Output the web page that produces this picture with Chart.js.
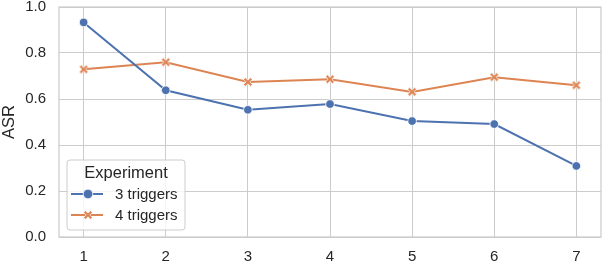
<!DOCTYPE html>
<html><head><meta charset="utf-8">
<script src="https://cdn.jsdelivr.net/npm/chart.js@4"></script>
<style>html,body{margin:0;padding:0;background:#fff}</style>
</head><body>
<canvas id="c" width="603" height="264" style="width:603px;height:264px;display:block"></canvas>
<script>
const triggerCounts = [1, 2, 3, 4, 5, 6, 7];
const asr3Triggers = [0.933, 0.638, 0.553, 0.578, 0.504, 0.491, 0.309];
const asr4Triggers = [0.729, 0.760, 0.674, 0.686, 0.631, 0.695, 0.660];
const seriesNames = ['3 triggers', '4 triggers'];
const yTickValues = [0, 0.2, 0.4, 0.6, 0.8, 1.0];
const legendTitle = 'Experiment';
const yAxisLabel = 'ASR';

const BLUE = '#4c72b0', ORANGE = '#dd8452', GRID = '#cccccc', TEXT = '#262626';
const FONT = "'Liberation Sans', Arial, sans-serif";

function makeXMarker(color) {
  const s = 14, c = document.createElement('canvas');
  c.width = s; c.height = s;
  const g = c.getContext('2d');
  const a = 1.3, r = 4.9;
  const pts = [[-a,r],[a,r],[a,a],[r,a],[r,-a],[a,-a],[a,-r],[-a,-r],[-a,-a],[-r,-a],[-r,a],[-a,a]];
  const cs = Math.cos(Math.PI/4), sn = Math.sin(Math.PI/4);
  g.beginPath();
  pts.forEach((p, i) => {
    const x = s/2 + p[0]*cs - p[1]*sn, y = s/2 + p[0]*sn + p[1]*cs;
    if (i === 0) g.moveTo(x, y); else g.lineTo(x, y);
  });
  g.closePath();
  g.fillStyle = color; g.fill();
  g.strokeStyle = '#ffffff'; g.lineWidth = 0.7; g.stroke();
  return c;
}
const xMarker = makeXMarker(ORANGE);

const toPoints = arr => arr.map((v, i) => ({x: triggerCounts[i], y: v}));

const framePlugin = {
  id: 'frame',
  beforeDatasetsDraw(chart) {
    const {ctx, chartArea: ca} = chart;
    ctx.save();
    ctx.strokeStyle = GRID; ctx.lineWidth = 1.25;
    ctx.strokeRect(ca.left, ca.top, ca.right - ca.left, ca.bottom - ca.top);
    ctx.restore();
  }
};

const legendPlugin = {
  id: 'customLegend',
  afterDatasetsDraw(chart) {
    const {ctx, chartArea: ca} = chart;
    const x0 = ca.left + 8, y0 = ca.bottom - 77, w = 118, h = 70;
    ctx.save();
    ctx.beginPath();
    ctx.roundRect(x0, y0, w, h, 3);
    ctx.fillStyle = 'rgba(255,255,255,0.8)';
    ctx.fill();
    ctx.strokeStyle = GRID; ctx.lineWidth = 1;
    ctx.stroke();
    ctx.fillStyle = TEXT;
    ctx.textAlign = 'center'; ctx.textBaseline = 'middle';
    ctx.font = `16.5px ${FONT}`;
    ctx.fillText(legendTitle, x0 + w/2, y0 + 13);
    const rows = [
      {name: seriesNames[0], color: BLUE, y: y0 + 34, marker: 'circle'},
      {name: seriesNames[1], color: ORANGE, y: y0 + 55, marker: 'x'}
    ];
    rows.forEach(r => {
      ctx.strokeStyle = r.color; ctx.lineWidth = 2;
      ctx.beginPath(); ctx.moveTo(x0 + 4, r.y); ctx.lineTo(x0 + 36, r.y); ctx.stroke();
      if (r.marker === 'circle') {
        ctx.beginPath(); ctx.arc(x0 + 21, r.y, 4.8, 0, Math.PI*2);
        ctx.fillStyle = r.color; ctx.fill();
        ctx.strokeStyle = '#fff'; ctx.lineWidth = 0.8; ctx.stroke();
      } else {
        ctx.drawImage(xMarker, x0 + 21 - xMarker.width/2, r.y - xMarker.height/2);
      }
      ctx.fillStyle = TEXT; ctx.textAlign = 'left';
      ctx.font = `15px ${FONT}`;
      ctx.fillText(r.name, x0 + 48, r.y + 0.5);
    });
    ctx.restore();
  }
};

new Chart(document.getElementById('c'), {
  type: 'line',
  data: {
    datasets: [
      {label: seriesNames[0], data: toPoints(asr3Triggers), borderColor: BLUE, backgroundColor: BLUE,
       borderWidth: 2, pointStyle: 'circle', pointRadius: 4.3, pointBorderColor: '#ffffff', pointBorderWidth: 0.8,
       pointBackgroundColor: BLUE, tension: 0, clip: false},
      {label: seriesNames[1], data: toPoints(asr4Triggers), borderColor: ORANGE, backgroundColor: ORANGE,
       borderWidth: 2, pointStyle: xMarker, pointRadius: 5, tension: 0, clip: false}
    ]
  },
  options: {
    responsive: false, animation: false, devicePixelRatio: 1,
    layout: {autoPadding: false, padding: {left: 0, right: 2, top: 7, bottom: 0}},
    plugins: {legend: {display: false}, tooltip: {enabled: false}},
    scales: {
      x: {
        type: 'linear', min: 0.7, max: 7.3,
        afterBuildTicks: s => { s.ticks = triggerCounts.map(v => ({value: v})); },
        afterFit: s => { s.height = 27; s.paddingLeft = 0; s.paddingRight = 0; },
        grid: {color: GRID, lineWidth: 1, drawTicks: false},
        border: {display: false},
        ticks: {color: TEXT, font: {family: FONT, size: 15}, padding: 11, maxRotation: 0,
                callback: v => String(v)}
      },
      y: {
        min: 0, max: 1,
        afterBuildTicks: s => { s.ticks = yTickValues.map(v => ({value: v})); },
        afterFit: s => { s.width = 59; s.paddingTop = 0; s.paddingBottom = 0; },
        grid: {color: GRID, lineWidth: 1, drawTicks: false},
        border: {display: false},
        ticks: {color: TEXT, font: {family: FONT, size: 15}, padding: 13,
                callback: v => Number(v).toFixed(1)},
        title: {display: true, text: yAxisLabel, color: TEXT, font: {family: FONT, size: 16.5},
                padding: {top: 0, bottom: 0}}
      }
    }
  },
  plugins: [framePlugin, legendPlugin]
});
</script>
</body></html>
